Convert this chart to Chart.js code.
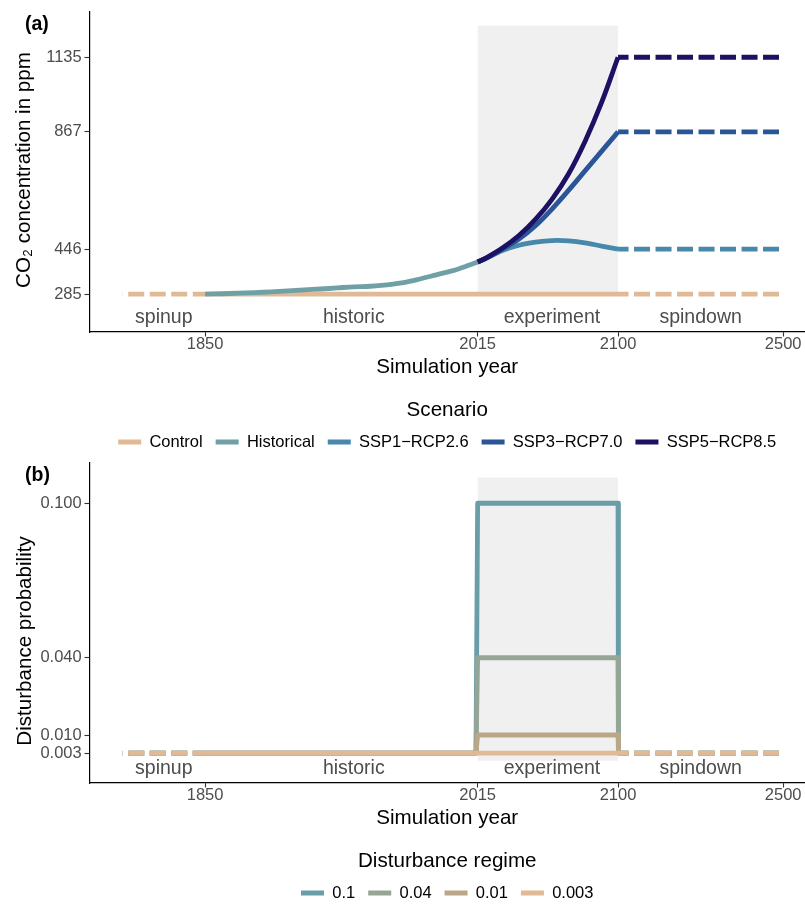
<!DOCTYPE html>
<html><head><meta charset="utf-8">
<script src="https://cdn.jsdelivr.net/npm/chart.js@4.4.1/dist/chart.umd.min.js"></script>
<style>
html,body{margin:0;padding:0;background:#fff;}
#wrap{position:relative;width:805px;height:904px;overflow:hidden;background:#fff;}
canvas{position:absolute;left:0;}
</style></head><body>
<div id="wrap">
<canvas id="ca" width="805" height="451" style="top:0"></canvas>
<canvas id="cb" width="805" height="453" style="top:451px"></canvas>
</div>
<script>
// ---------------- data ----------------
const tickYears = [1850, 2015, 2100, 2500];
const spinupSpan = [1800, 1850];          // schematic spinup (axis units before 1850)
const spindownYears = [2100, 2500];
const expWindow = [2015, 2100];

const histYears = [1850,1860,1870,1880,1890,1900,1910,1920,1930,1940,1950,1960,1970,1980,1990,2000,2010,2015];
const histCO2   = [285, 286, 288, 290, 293, 296, 300, 303, 307, 311, 313, 318, 326, 339, 354, 369, 389, 400];

const sspYears = [2015,2020,2030,2040,2050,2060,2070,2080,2090,2100];
const ssp126   = [400, 413, 441, 460, 471, 477, 476, 469, 457, 446];
const ssp370   = [400, 413, 446, 482, 530, 590, 657, 727, 797, 867];
const ssp585   = [400, 414, 450, 495, 553, 625, 716, 833, 972, 1135];

const controlCO2 = 285;
const co2Ticks = [285, 446, 867, 1135];
const bandCO2 = [285, 1248.5];

const scenarioNames  = ['Control', 'Historical', 'SSP1\u2212RCP2.6', 'SSP3\u2212RCP7.0', 'SSP5\u2212RCP8.5'];
const scenarioColors = ['#E0B996', '#6FA0A5', '#4788AB', '#2A5596', '#1C1163'];

const regimeNames  = ['0.1', '0.04', '0.01', '0.003'];
const regimeValues = [0.1, 0.04, 0.01, 0.003];
const regimeColors = ['#699DA8', '#95A696', '#BAA787', '#E0B996'];
const baseProb = 0.003;
const stepYears = [1850, 2014, 2015, 2100, 2101];
const probTicks = [0.003, 0.010, 0.040, 0.100];
const probTickLabels = ['0.003', '0.010', '0.040', '0.100'];
const bandProb = [0, 0.11];

const regionNames   = ['spinup', 'historic', 'experiment', 'spindown'];
const regionCenters = [1825, 1940, 2060, 2300];

// ---------------- helpers ----------------
const FONT = '"Liberation Sans", Arial, Helvetica, sans-serif';
const LW = 4.8;
function toAxis(y) { return y <= 2100 ? y : 2100 + (y - 2100) / 4; }

function series(xs, ys, color, order, extra) {
  return Object.assign({
    data: xs.map((x, i) => ({ x: toAxis(x), y: Array.isArray(ys) ? ys[i] : ys })),
    borderColor: color, backgroundColor: color, borderWidth: LW,
    pointRadius: 0, pointHoverRadius: 0, fill: false, tension: 0,
    borderJoinStyle: 'round', borderCapStyle: 'butt', order: order
  }, extra || {});
}
const DASH_SPIN = { borderDash: [16, 5.5], borderDashOffset: 15.8 };
const DASH_DOWN = { borderDash: [16, 5.5], borderDashOffset: 5.5 };
const SMOOTH = { tension: 0.35 };

const bandPlugin = {
  id: 'band',
  beforeDatasetsDraw(chart, args, o) {
    const { ctx, scales: { x, y } } = chart;
    const x0 = x.getPixelForValue(toAxis(expWindow[0]));
    const x1 = x.getPixelForValue(toAxis(expWindow[1]));
    const y0 = y.getPixelForValue(o.range[0]);
    const y1 = y.getPixelForValue(o.range[1]);
    ctx.save();
    ctx.fillStyle = '#F0F0F0';
    ctx.fillRect(x0, y1, x1 - x0, y0 - y1);
    ctx.restore();
  }
};

const textPlugin = {
  id: 'texts',
  afterDatasetsDraw(chart, args, o) {
    const { ctx, chartArea, scales: { x } } = chart;
    ctx.save();
    ctx.fillStyle = '#4D4D4D';
    ctx.font = '19.5px ' + FONT;
    ctx.textAlign = 'center';
    ctx.textBaseline = 'alphabetic';
    regionNames.forEach((n, i) => {
      ctx.fillText(n, x.getPixelForValue(toAxis(regionCenters[i])), chartArea.bottom - 9);
    });
    // panel tag
    ctx.fillStyle = '#000';
    ctx.font = 'bold 19.5px ' + FONT;
    ctx.textAlign = 'left';
    ctx.fillText(o.tag, 25, 29.5);
    // y-axis title
    ctx.font = '20.6px ' + FONT;
    ctx.textAlign = 'center';
    ctx.translate(o.titleX, (chartArea.top + chartArea.bottom) / 2 + o.titleShift);
    ctx.rotate(-Math.PI / 2);
    ctx.fillText(o.title, 0, 0);
    ctx.restore();
  }
};

function makeOptions(yMin, yMax, yTicks, yLabel, legendTitle, names, colors, padBottom, bandRange, tag, title, titleX, titleShift) {
  return {
    responsive: false, animation: false, devicePixelRatio: 1,
    layout: { padding: { top: 12, right: 0, left: 0, bottom: padBottom } },
    events: [],
    plugins: {
      tooltip: { enabled: false },
      band: { range: bandRange },
      texts: { tag: tag, title: title, titleX: titleX, titleShift: titleShift },
      legend: {
        position: 'bottom', fullSize: false, align: 'center',
        title: { display: true, text: legendTitle, color: '#000',
                 font: { family: FONT, size: 20.6, lineHeight: 1 }, padding: { top: 0, bottom: 0.45 } },
        labels: {
          boxWidth: 23, boxHeight: 5, padding: 13, color: '#000',
          font: { family: FONT, size: 16.5, lineHeight: 1 },
          generateLabels: () => names.map((n, i) => ({
            text: n, fillStyle: colors[i], strokeStyle: colors[i], lineWidth: 0, hidden: false, datasetIndex: i
          }))
        }
      }
    },
    scales: {
      x: {
        type: 'linear', min: 1780, max: 2213.2,
        afterBuildTicks: s => { s.ticks = tickYears.map(v => ({ value: toAxis(v) })); },
        afterFit: s => { s.height = 67.7; },
        ticks: {
          autoSkip: false, maxRotation: 0, padding: -0.75, color: '#4D4D4D',
          font: { family: FONT, size: 16.5, lineHeight: 1 },
          callback: v => { const i = tickYears.findIndex(t => Math.abs(toAxis(t) - v) < 1e-6); return i >= 0 ? String(tickYears[i]) : ''; }
        },
        grid: { display: true, drawOnChartArea: false, drawTicks: true, tickLength: 4.5, tickColor: '#333333', tickWidth: 1.1 },
        border: { display: true, color: '#000', width: 1.2 },
        title: { display: true, text: 'Simulation year', color: '#000',
                 font: { family: FONT, size: 20.6, lineHeight: 1 }, padding: { top: 0, bottom: 22.4 } }
      },
      y: {
        type: 'linear', min: yMin, max: yMax,
        afterBuildTicks: s => { s.ticks = yTicks.map(v => ({ value: v })); },
        afterFit: s => { s.width = 89.5; },
        ticks: {
          autoSkip: false, padding: 2.8, color: '#4D4D4D',
          font: { family: FONT, size: 16.5, lineHeight: 1 },
          callback: v => { const i = yTicks.findIndex(t => Math.abs(t - v) < 1e-9); return i >= 0 ? yLabel[i] : ''; }
        },
        grid: { display: true, drawOnChartArea: false, drawTicks: true, tickLength: 5, tickColor: '#333333', tickWidth: 1.1 },
        border: { display: true, color: '#000', width: 1.2 },
        title: { display: false }
      }
    }
  };
}

// ---------------- panel (a) ----------------
const dsA = [];
dsA.push(series(spinupSpan, controlCO2, scenarioColors[0], 9, DASH_SPIN));
dsA.push(series([1850, 2100], controlCO2, scenarioColors[0], 9));
dsA.push(series(spindownYears, controlCO2, scenarioColors[0], 9, DASH_DOWN));
dsA.push(series(histYears, histCO2, scenarioColors[1], 8, SMOOTH));
[[ssp126, 2, 7], [ssp370, 3, 6], [ssp585, 4, 5]].forEach(([vals, ci, ord]) => {
  dsA.push(series(sspYears, vals, scenarioColors[ci], ord, SMOOTH));
  dsA.push(series(spindownYears, vals[vals.length - 1], scenarioColors[ci], ord, DASH_DOWN));
});

new Chart(document.getElementById('ca'), {
  type: 'line',
  data: { datasets: dsA },
  options: makeOptions(148.7, 1297.5, co2Ticks, co2Ticks.map(String), 'Scenario',
                       scenarioNames, scenarioColors, -9.25, bandCO2, '(a)',
                       'CO\u2082 concentration in ppm', 29.5, -2),
  plugins: [bandPlugin, textPlugin]
});

// ---------------- panel (b) ----------------
const dsB = [];
regimeValues.forEach((v, i) => {
  const order = 4 - i; // 0.1 -> bottom, 0.003 -> top
  dsB.push(series(spinupSpan, baseProb, regimeColors[i], order, DASH_SPIN));
  dsB.push(series(stepYears, [baseProb, baseProb, v, v, baseProb], regimeColors[i], order));
  dsB.push(series(spindownYears, baseProb, regimeColors[i], order, DASH_DOWN));
});

new Chart(document.getElementById('cb'), {
  type: 'line',
  data: { datasets: dsB },
  options: makeOptions(-0.00864, 0.11564, probTicks, probTickLabels, 'Disturbance regime',
                       regimeNames, regimeColors, -7.25, bandProb, '(b)',
                       'Disturbance probability', 31, 18),
  plugins: [bandPlugin, textPlugin]
});
</script>
</body></html>
